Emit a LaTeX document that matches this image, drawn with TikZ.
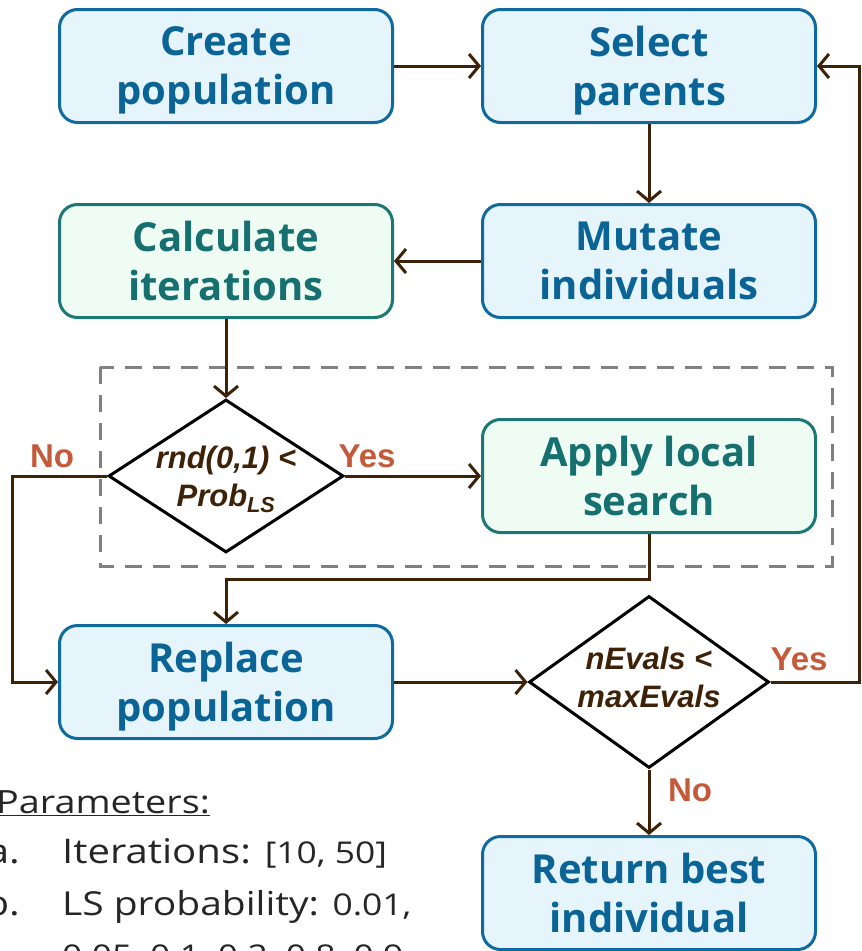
\documentclass[tikz,border=0pt]{standalone}
\usepackage{fontspec}
\setmainfont{Open Sans}
\newfontfamily\arialfont{Liberation Sans}
\newfontfamily\notefont[FakeStretch=1.18]{Open Sans}
\usetikzlibrary{arrows.meta,shapes.geometric}

\definecolor{bluefill}{HTML}{E6F4FC}
\definecolor{blueline}{HTML}{0F6A9E}
\definecolor{bluetext}{HTML}{0A6496}
\definecolor{greenfill}{HTML}{EFFCF3}
\definecolor{greenline}{HTML}{1C7775}
\definecolor{greentext}{HTML}{167070}
\definecolor{flowline}{HTML}{3D2208}
\definecolor{answer}{HTML}{C55A3A}
\definecolor{groupline}{HTML}{808080}

\tikzset{
  procbox/.style={rectangle, rounded corners=18pt, line width=3pt,
    minimum width=333pt, minimum height=113pt, align=center,
    font=\fontsize{40}{49}\selectfont\bfseries, inner sep=0pt, text depth=0pt},
  bluebox/.style={procbox, draw=blueline, fill=bluefill, text=bluetext},
  greenbox/.style={procbox, draw=greenline, fill=greenfill, text=greentext},
  decision/.style={diamond, draw=black, line width=3pt, fill=white, inner sep=0pt},
  decisiontext/.style={align=center, text=flowline, inner sep=0pt, text depth=0pt,
    font=\arialfont\fontsize{31}{38}\selectfont\bfseries\itshape},
  flow/.style={draw=flowline, line width=3pt,
    -{Straight Barb[length=10pt,width=24pt,line width=3pt]}},
  answerlabel/.style={text=answer, font=\arialfont\fontsize{33}{38}\selectfont\bfseries, inner sep=0pt},
  paramtext/.style={inner sep=0pt, text=black!85},
}

\begin{document}
\begin{tikzpicture}[x=1pt,y=-1pt]
  \useasboundingbox (0,0) rectangle (862,951);

  % local-search group
  \draw[groupline, line width=3pt, dash pattern=on 17pt off 11pt] (100,367) rectangle (832,566);

  % process boxes
  \node[bluebox]  (create)  at (226,66)  {Create\\population};
  \node[bluebox]  (select)  at (649,66)  {Select\\parents};
  \node[bluebox]  (mutate)  at (649,261) {Mutate\\individuals};
  \node[greenbox] (calc)    at (226,261) {Calculate\\iterations};
  \node[greenbox] (local)   at (649,476) {Apply local\\search};
  \node[bluebox]  (replace) at (226,682) {Replace\\population};
  \node[bluebox]  (best)    at (649,893) {Return best\\individual};

  % decisions (fixed size, text laid over the centre)
  \node[decision, minimum width=235pt, minimum height=153pt,
        label={[decisiontext]center:rnd(0,1) <\\Prob\textsubscript{LS}}] (dls) at (226,476) {};
  \node[decision, minimum width=240pt, minimum height=172pt,
        label={[decisiontext, yshift=5pt]center:nEvals <\\maxEvals}] (dev) at (649,682) {};

  \coordinate (noturn) at (12,476);
  \coordinate (lsturn) at (649,579);
  \coordinate (yesturn) at (859,682);

  % connectors
  \draw[flow] (create) -- (select);
  \draw[flow] (select) -- (mutate);
  \draw[flow] (mutate) -- (calc);
  \draw[flow] (calc) -- (dls);
  \draw[flow] (dls) -- (local);
  \draw[flow] (dls.west) -- (noturn) |- (replace.west);
  \draw[flow] (local.south) -- (lsturn) -| (replace.north);
  \draw[flow] (replace) -- (dev);
  \draw[flow] (dev.east) -- (yesturn) |- (select.east);
  \draw[flow] (dev) -- (best);

  % branch labels
  \node[answerlabel] (yes1) at (367,456) {Yes};
  \node[answerlabel] (no1)  at (52,456)  {No};
  \node[answerlabel] (yes2) at (799,659) {Yes};
  \node[answerlabel] (no2)  at (690,790) {No};

  % parameter notes
  \node[paramtext, anchor=base west, font=\notefont\fontsize{32}{40}\selectfont] (ptitle) at (-4,813) {\underline{Parameters:}};
  \node[paramtext, anchor=base east, font=\notefont\fontsize{34}{40}\selectfont] (pa) at (20,863) {a.};
  \node[paramtext, anchor=base west, font=\notefont\fontsize{34}{40}\selectfont] (pia) at (62,863)
    {Iterations: {\fontsize{30}{34}\selectfont [10, 50]}};
  \node[paramtext, anchor=base east, font=\notefont\fontsize{34}{40}\selectfont] (pb) at (20,915) {b.};
  \node[paramtext, anchor=base west, font=\notefont\fontsize{33}{40}\selectfont] (pib) at (62,915)
    {LS probability: {\fontsize{30}{34}\selectfont 0.01,}};
  \node[paramtext, anchor=base west, font=\notefont\fontsize{30}{34}\selectfont] (pic) at (62,966)
    {0.05, 0.1, 0.2, 0.8, 0.9};
\end{tikzpicture}
\end{document}
